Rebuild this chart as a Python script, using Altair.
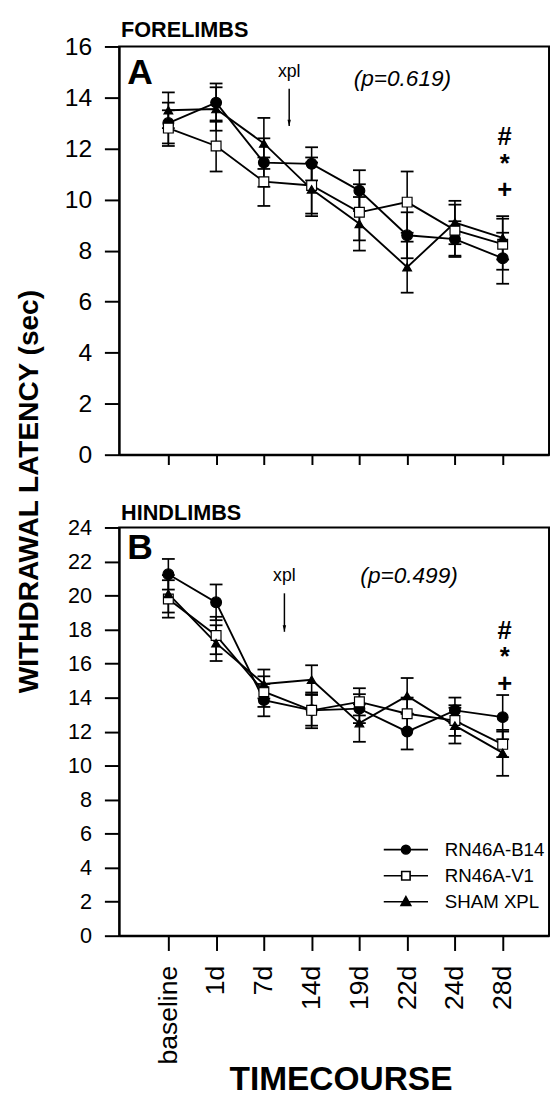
import json
import altair as alt
import pandas as pd

# ---------------- data ----------------
categories = ["baseline", "1d", "7d", "14d", "19d", "22d", "24d", "28d"]
series_names = ["RN46A-B14", "RN46A-V1", "SHAM XPL"]

# FORELIMBS (panel A): means and error (+/-)
fore_b14 = [13.0, 13.8, 11.45, 11.4, 10.35, 8.6, 8.45, 7.7]
fore_b14_err = [0.8, 0.75, 0.95, 0.65, 0.8, 0.9, 0.7, 1.0]
fore_v1 = [12.8, 12.1, 10.7, 10.55, 9.5, 9.9, 8.8, 8.25]
fore_v1_err = [0.7, 1.0, 0.95, 1.1, 1.1, 1.2, 1.0, 1.0]
fore_sham = [13.5, 13.55, 12.2, 10.4, 9.05, 7.35, 9.1, 8.5]
fore_sham_err = [0.7, 0.85, 1.0, 1.05, 1.05, 1.0, 0.85, 0.85]

# HINDLIMBS (panel B)
hind_b14 = [21.25, 19.6, 13.85, 13.25, 13.35, 12.0, 13.25, 12.85]
hind_b14_err = [0.9, 1.05, 0.95, 0.9, 0.85, 1.05, 0.75, 1.3]
hind_v1 = [19.8, 17.65, 14.35, 13.25, 13.75, 13.05, 12.65, 11.25]
hind_v1_err = [1.1, 1.1, 0.9, 1.05, 0.8, 0.95, 0.9, 0.75]
hind_sham = [20.1, 17.2, 14.8, 15.05, 12.5, 14.1, 12.35, 10.75]
hind_sham_err = [1.1, 1.05, 0.85, 0.85, 1.1, 1.05, 1.05, 1.35]

# annotations (x in timepoint index units, y in data units)
fore_title = ("FORELIMBS", -0.99, 16.39)
hind_title = ("HINDLIMBS", -0.99, 24.46)
fore_letter = ("A", -0.86, 14.53)
hind_letter = ("B", -0.86, 22.15)
fore_xpl = ("xpl", 2.53, 14.82)
hind_xpl = ("xpl", 2.43, 20.88)
fore_arrow = (2.53, 14.34, 12.88)
hind_arrow = (2.43, 20.13, 17.87)
fore_p = ("(p=0.619)", 4.9, 14.46)
hind_p = ("(p=0.499)", 5.04, 20.71)
sig_text = "#\n*\n+"
sig_x = 7.04
fore_sig_y = 12.13
hind_sig_y = 17.47

FONT = "Liberation Sans"


def make_df(means, errs):
    rows = []
    for s, m, e in zip(series_names, means, errs):
        for i, (v, d) in enumerate(zip(m, e)):
            rows.append({"series": s, "i": i, "time": categories[i],
                         "mean": v, "lo": v - d, "hi": v + d})
    return pd.DataFrame(rows)


legend_paths = [
    "M-5,0H5M1,0A1,1,0,1,1,-1,0A1,1,0,1,1,1,0Z",
    "M-5,0H-0.95M0.95,0H5M-0.95,-0.95H0.95V0.95H-0.95Z",
    "M-5,0H5M0,-1.15L1.1,0.85H-1.1Z",
]


def text_layer(item, **kw):
    df = pd.DataFrame({"t": [item[0]], "x": [item[1]], "y": [item[2]]})
    return alt.Chart(df).mark_text(font=FONT, color="black", **kw).encode(
        x="x:Q", y="y:Q", text="t:N")


def panel(df, ymax, title, ylab_size, letter, xpl, arrow, pval, sig_y, bottom):
    label_expr = json.dumps(categories) + "[datum.value]"
    yvals = list(range(0, ymax + 1, 2))
    if bottom:
        xaxis = alt.Axis(values=list(range(8)), tickCount=20, labelExpr=label_expr,
                         labelAngle=270, labelFontSize=27, labelPadding=15, tickSize=15,
                         title="TIMECOURSE", titleFontSize=34, titleFontWeight="bold",
                         titleX=225, titleY=156, titleBaseline="alphabetic", grid=False)
        yaxis = alt.Axis(values=yvals, tickCount=30, format="d", labelFontSize=ylab_size,
                         tickSize=15, labelPadding=13, grid=False, title=None)
    else:
        xaxis = alt.Axis(values=list(range(8)), tickCount=20, labels=False, tickSize=10,
                         title=None, grid=False)
        yaxis = alt.Axis(values=yvals, tickCount=30, format="d", labelFontSize=ylab_size,
                         tickSize=15, labelPadding=13, grid=False,
                         title="WITHDRAWAL LATENCY (sec)", titleFontSize=28.5,
                         titleFontWeight="bold", titleAngle=270, titleBaseline="alphabetic",
                         titleX=-83, titleY=452)

    xs = alt.Scale(domain=[-1.03, 7.97], nice=False, zero=False)
    ys = alt.Scale(domain=[0, ymax], nice=False, zero=True)
    base = alt.Chart(df)

    bars = base.mark_rule(color="black", strokeWidth=1.6).encode(
        x=alt.X("i:Q", scale=xs, axis=xaxis),
        y=alt.Y("lo:Q", scale=ys, axis=yaxis),
        y2="hi:Q",
    )
    cap_hi = base.mark_tick(orient="horizontal", color="black", size=13, thickness=1.8,
                            opacity=1).encode(x="i:Q", y="hi:Q")
    cap_lo = base.mark_tick(orient="horizontal", color="black", size=13, thickness=1.8,
                            opacity=1).encode(x="i:Q", y="lo:Q")
    lines = base.mark_line(color="black", strokeWidth=1.9).encode(
        x="i:Q", y="mean:Q", detail="series:N", order="i:Q")
    pts = base.mark_point(filled=True, stroke="black", strokeWidth=1.2, opacity=1).encode(
        x="i:Q", y="mean:Q",
        shape=alt.Shape("series:N", scale=alt.Scale(domain=series_names,
                        range=["circle", "square", "triangle-up"]), legend=None),
        fill=alt.Fill("series:N", scale=alt.Scale(domain=series_names,
                      range=["black", "white", "black"]), legend=None),
        size=alt.Size("series:N", scale=alt.Scale(domain=series_names,
                      range=[120, 78, 140]), legend=None),
    )

    layers = [bars, cap_hi, cap_lo, lines, pts]

    if bottom:
        leg = alt.Legend(orient="none", legendX=282, legendY=318, title=None,
                         symbolSize=81, symbolStrokeWidth=1.6, symbolStrokeColor="black",
                         symbolOpacity=1, labelFont=FONT, labelFontSize=19,
                         labelColor="black", labelOffset=30, rowPadding=6.5, padding=0)
        legend_layer = base.mark_point(filled=True, opacity=0, size=81,
                                       strokeWidth=1.6).encode(
            x="i:Q", y="mean:Q",
            shape=alt.Shape("series:N", scale=alt.Scale(domain=series_names,
                            range=legend_paths), legend=leg),
            fill=alt.Fill("series:N", scale=alt.Scale(domain=series_names,
                          range=["black", "white", "black"]), legend=leg),
            stroke=alt.Stroke("series:N", scale=alt.Scale(domain=series_names,
                              range=["black", "black", "black"]), legend=leg),
        )
        layers.append(legend_layer)

    # annotations
    layers.append(text_layer(title, fontSize=22, fontWeight="bold", align="left",
                             baseline="alphabetic"))
    layers.append(text_layer(letter, fontSize=36, fontWeight="bold", align="left",
                             baseline="alphabetic"))
    layers.append(text_layer(xpl, fontSize=18, align="center", baseline="alphabetic"))
    arrow_df = pd.DataFrame({"x": [arrow[0]], "y1": [arrow[1]], "y2": [arrow[2]]})
    layers.append(alt.Chart(arrow_df).mark_rule(color="black", strokeWidth=1.5).encode(
        x="x:Q", y="y1:Q", y2="y2:Q"))
    layers.append(alt.Chart(arrow_df).mark_point(
        shape="M0,0L-0.35,-1.3L0.35,-1.3Z", filled=True, color="black", size=100,
        opacity=1).encode(x="x:Q", y="y2:Q"))
    layers.append(text_layer(pval, fontSize=23, fontStyle="italic", align="center",
                             baseline="alphabetic"))
    layers.append(text_layer((sig_text, sig_x, sig_y), fontSize=26, fontWeight="bold",
                             align="center", baseline="alphabetic", lineBreak="\n",
                             lineHeight=27))

    ch = alt.layer(*layers).properties(width=437, height=415)
    if bottom:
        ch = ch.resolve_scale(shape="independent", fill="independent",
                              size="independent", stroke="independent")
    return ch


top = panel(make_df([fore_b14, fore_v1, fore_sham], [fore_b14_err, fore_v1_err, fore_sham_err]),
            16, fore_title, 25, fore_letter, fore_xpl, fore_arrow, fore_p, fore_sig_y, False)
bot = panel(make_df([hind_b14, hind_v1, hind_sham], [hind_b14_err, hind_v1_err, hind_sham_err]),
            24, hind_title, 22, hind_letter, hind_xpl, hind_arrow, hind_p, hind_sig_y, True)

chart = alt.vconcat(top, bot, spacing=74, bounds="flush").properties(
    padding={"left": 6, "top": 0, "right": 0, "bottom": 0},
    background="white",
).configure_view(
    stroke="black", strokeWidth=2
).configure_axis(
    domainColor="black", domainWidth=2, tickColor="black", tickWidth=2,
    labelColor="black", titleColor="black", labelFont=FONT, titleFont=FONT,
)

chart.save("out.html", embed_options={"renderer": "svg", "actions": False})
